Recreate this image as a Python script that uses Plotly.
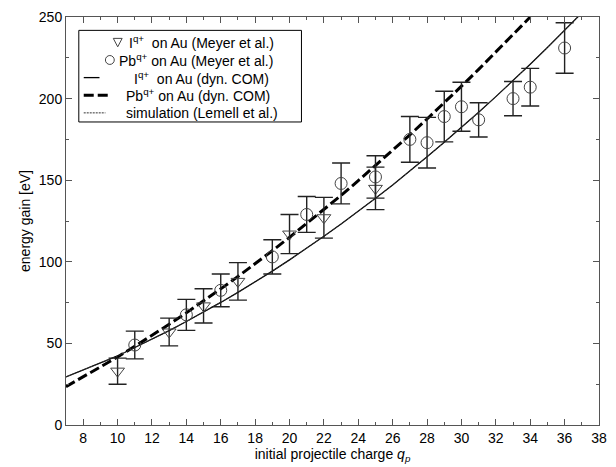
import plotly.graph_objects as go

# ---- data ----
I_q = [10, 13, 15, 17, 20, 22, 25]
I_E = [33, 57, 73, 88, 117, 127, 145]
I_err = [8, 8.5, 10.5, 11.5, 12, 12.5, 13]

Pb_q = [11, 14, 16, 19, 21, 23, 25, 27, 28, 29, 30, 31, 33, 34, 36]
Pb_E = [49, 67.5, 82.5, 103, 129, 148, 152, 175, 173, 189, 195, 187, 200, 207, 231]
Pb_err = [8.5, 9.5, 10, 10.5, 11, 12.5, 13, 14, 15.5, 15.5, 15, 10.5, 10.5, 11.5, 15.5]

com_I_q = [7, 8, 9, 10, 11, 12, 13, 14, 15, 16, 17, 18, 19, 20, 21, 22, 23, 24, 25,
           26, 27, 28, 29, 30, 31, 32, 33, 34, 35, 36, 37]
com_I_E = [29.5, 33.7, 38.0, 42.3, 47.5, 52.6, 57.8, 63.4, 69.1, 75.1, 81.3, 87.7, 94.3,
           101.2, 108.3, 115.6, 123.2, 130.9, 138.9, 147.1, 155.6, 164.3, 173.2, 182.3,
           191.6, 201.2, 211.0, 221.0, 231.3, 241.8, 252.5]

com_Pb_q = [7, 8, 9, 10, 11, 12, 13, 14, 15, 16, 17, 18, 19, 20, 21, 22, 23, 24, 25,
            26, 27, 28, 29, 30, 31, 32, 33, 34]
com_Pb_E = [23.5, 29.4, 35.5, 41.7, 48.2, 54.8, 61.7, 68.7, 75.9, 83.4, 91.0, 98.8, 106.8,
            115.0, 123.4, 132.0, 140.7, 149.7, 158.9, 168.2, 177.8, 187.5, 197.4, 207.6,
            217.9, 228.4, 239.1, 250.0]

sim_q = com_I_q
sim_E = com_I_E

x_ticks = list(range(8, 39, 2))
y_ticks = [0, 50, 100, 150, 200, 250]

legend_labels = [
    "I<sup>q+</sup>\u00a0\u00a0on Au (Meyer et al.)",
    "Pb<sup>q+</sup> on Au (Meyer et al.)",
    "I<sup>q+</sup>\u00a0\u00a0on Au (dyn. COM)",
    "Pb<sup>q+</sup> on Au (dyn. COM)",
    "simulation (Lemell et al.)",
]

FONT = "Liberation Sans, Arial, Helvetica, sans-serif"
AX = "#555555"
W, H = 616, 467
ML, MR, MT, MB = 66, 9, 13, 42
PW, PH = W - ML - MR, H - MT - MB


def pxx(x):
    return (x - ML) / PW


def pxy(y):
    return (H - MB - y) / PH


fig = go.Figure()

fig.add_trace(go.Scatter(
    x=com_I_q, y=com_I_E, mode="lines", name=legend_labels[2],
    line=dict(color="black", width=1.3), showlegend=False))
fig.add_trace(go.Scatter(
    x=com_Pb_q, y=com_Pb_E, mode="lines", name=legend_labels[3],
    line=dict(color="black", width=3, dash="10px,4px"), showlegend=False))
fig.add_trace(go.Scatter(
    x=sim_q, y=sim_E, mode="lines", name=legend_labels[4],
    line=dict(color="#333333", width=1, dash="2px,1px"), showlegend=False))

fig.add_trace(go.Scatter(
    x=I_q, y=I_E, mode="markers", name=legend_labels[0],
    marker=dict(symbol="triangle-down-open", size=12, color="#444444",
                line=dict(width=1, color="#444444")),
    error_y=dict(type="data", array=I_err, visible=True, color="#222222",
                 thickness=1.4, width=9),
    showlegend=False))
fig.add_trace(go.Scatter(
    x=Pb_q, y=Pb_E, mode="markers", name=legend_labels[1],
    marker=dict(symbol="circle-open", size=12, color="#444444",
                line=dict(width=1, color="#444444")),
    error_y=dict(type="data", array=Pb_err, visible=True, color="#222222",
                 thickness=1.4, width=9),
    showlegend=False))

# ---- hand-built legend box (gnuplot style) ----
rows = [38.6, 56.4, 74.2, 92.0, 109.8]
text_x = [128, 117.5, 133, 125, 124.5]
shapes = [dict(type="rect", xref="paper", yref="paper",
               x0=pxx(79), x1=pxx(305), y0=pxy(119), y1=pxy(26.5),
               line=dict(color="black", width=1), fillcolor="white", layer="above")]
# triangle sample
tx, ty = 118.5, rows[0]
shapes.append(dict(type="path", xref="paper", yref="paper", layer="above",
                   path=f"M {pxx(tx-4.5)},{pxy(ty-4)} L {pxx(tx+4.5)},{pxy(ty-4)} "
                        f"L {pxx(tx)},{pxy(ty+4.5)} Z",
                   line=dict(color="#444444", width=1)))
# circle sample
cx, cy = 110.5, rows[1]
shapes.append(dict(type="circle", xref="paper", yref="paper", layer="above",
                   x0=pxx(cx-4.5), x1=pxx(cx+4.5), y0=pxy(cy+4.5), y1=pxy(cy-4.5),
                   line=dict(color="#444444", width=1)))
# line samples
shapes.append(dict(type="line", xref="paper", yref="paper", layer="above",
                   x0=pxx(84), x1=pxx(100), y0=pxy(rows[2]), y1=pxy(rows[2]),
                   line=dict(color="black", width=1.3)))
shapes.append(dict(type="line", xref="paper", yref="paper", layer="above",
                   x0=pxx(84), x1=pxx(109), y0=pxy(rows[3]), y1=pxy(rows[3]),
                   line=dict(color="black", width=3, dash="10px,4px")))
shapes.append(dict(type="line", xref="paper", yref="paper", layer="above",
                   x0=pxx(84), x1=pxx(106), y0=pxy(rows[4]), y1=pxy(rows[4]),
                   line=dict(color="#333333", width=1, dash="2px,1px")))

annotations = []
for lab, xx, yy in zip(legend_labels, text_x, rows):
    annotations.append(dict(text=lab, xref="paper", yref="paper",
                            x=pxx(xx), y=pxy(yy), xanchor="left", yanchor="middle",
                            showarrow=False, font=dict(family=FONT, size=14, color="black")))

fig.update_layout(
    width=W, height=H,
    margin=dict(l=ML, r=MR, t=MT, b=MB),
    paper_bgcolor="white", plot_bgcolor="white",
    font=dict(family=FONT, size=14, color="black"),
    showlegend=False,
    shapes=shapes, annotations=annotations,
)

fig.update_xaxes(
    range=[7, 38], tickvals=x_ticks, ticktext=[str(v) for v in x_ticks],
    ticks="inside", ticklen=6, tickwidth=1, tickcolor=AX,
    showline=True, linecolor=AX, linewidth=1, mirror="allticks",
    showgrid=False, zeroline=False, ticklabeloverflow="allow",
    minor=dict(dtick=1, tick0=7, ticks="inside", ticklen=3, tickcolor=AX, showgrid=False),
    tickfont=dict(size=14),
    title=dict(text="initial projectile charge <i>q</i><sub><i>p</i></sub>",
               font=dict(size=14), standoff=0),
)
fig.update_yaxes(
    range=[0, 250], tickvals=y_ticks, ticktext=[str(v) for v in y_ticks],
    ticks="inside", ticklen=6, tickwidth=1, tickcolor=AX,
    showline=True, linecolor=AX, linewidth=1, mirror="allticks",
    showgrid=False, zeroline=False,
    minor=dict(dtick=25, tick0=0, ticks="inside", ticklen=3, tickcolor=AX, showgrid=False),
    tickfont=dict(size=14),
    title=dict(text="energy gain [eV]", font=dict(size=14), standoff=4),
)

fig.write_html("out.html", config={"displayModeBar": False},
               post_script="document.body.style.margin='0px';")
